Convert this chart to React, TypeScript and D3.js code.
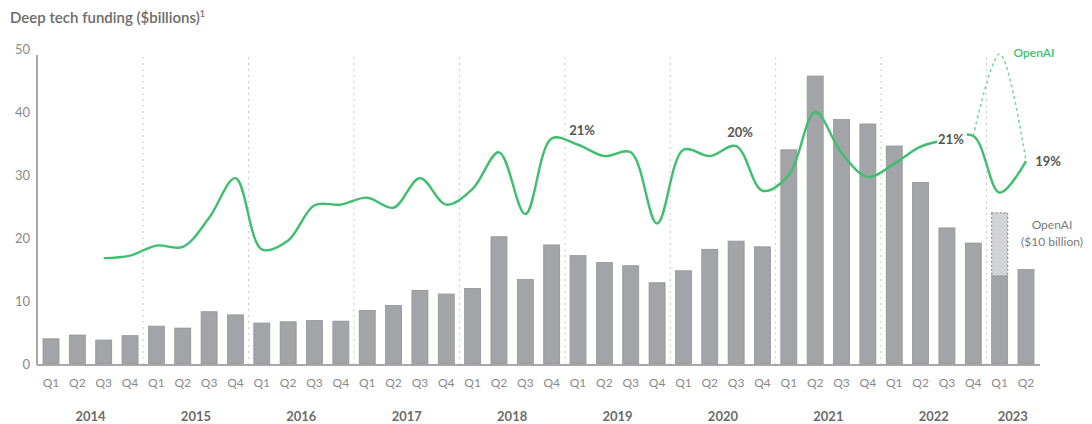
import * as d3 from 'd3';

const quarters = ['Q1', 'Q2', 'Q3', 'Q4'];
const years = ['2014', '2015', '2016', '2017', '2018', '2019', '2020', '2021', '2022', '2023'];
// one entry per quarter, 2014 Q1 .. 2023 Q2
const periods = years.flatMap((y) => quarters.map((q) => `${y} ${q}`)).slice(0, 38);

const funding = [
  4.0, 4.6, 3.8, 4.5, 6.0, 5.7, 8.3, 7.8, 6.5, 6.7, 6.9, 6.8,
  8.5, 9.3, 11.7, 11.1, 12.0, 20.2, 13.4, 18.9, 17.2, 16.1, 15.6, 12.9,
  14.8, 18.2, 19.5, 18.6, 34.0, 45.7, 38.8, 38.1, 34.6, 28.8, 21.6, 19.2,
  14.0, 15.0,
];

// OpenAI deal stacked on 2023 Q1
const openAiExtra = { period: '2023 Q1', base: 14.0, value: 10 };

const share: (number | null)[] = [
  null, null, 16.8, 17.2, 18.8, 18.6, 23.2, 29.5, 18.2, 19.6, 25.2, 25.3,
  26.4, 24.8, 29.5, 25.3, 27.8, 33.6, 23.8, 35.8, 34.8, 33.0, 33.6, 22.3,
  34.0, 33.0, 34.6, 27.5, 30.0, 40.0, 33.5, 29.7, 31.8, 34.5, 35.6, 36.2,
  27.2, 32.2,
];

// share line if the OpenAI deal is included
const shareWithOpenAi = [
  { period: '2022 Q4', value: 36.2 },
  { period: '2023 Q1', value: 49.2 },
  { period: '2023 Q2', value: 32.2 },
];

const shareLabels = [
  { period: '2019 Q1', text: '21%', dx: 4, dy: -14 },
  { period: '2020 Q3', text: '20%', dx: 4, dy: -14 },
  { period: '2022 Q3', text: '21%', dx: 4, dy: 0 },
  { period: '2023 Q2', text: '19%', dx: 22, dy: 0 },
];

const yTicks = [0, 10, 20, 30, 40, 50];

const GREEN = '#3dbf6e';
const BAR = '#a3a4a8';
const FONT = 'Lato, "Open Sans", sans-serif';

export default function App() {
  const width = 1092;
  const height = 424;
  const axisX = 37;
  const axisRight = 1040;

  const x = d3.scalePoint<string>().domain(periods).range([51, 1026]);
  const y = d3.scaleLinear().domain([0, 50]).range([364, 49]);
  const barW = 16;

  const line = d3
    .line<number | null>()
    .defined((d) => d != null)
    .x((_, i) => x(periods[i])!)
    .y((d) => y(d as number))
    .curve(d3.curveCatmullRom.alpha(0.5));

  const dashLine = d3
    .line<{ period: string; value: number }>()
    .x((d) => x(d.period)!)
    .y((d) => y(d.value))
    .curve(d3.curveCatmullRom.alpha(0.5));

  const step = x.step();
  const separators = years.slice(1).map((yr) => x(`${yr} Q1`)! - step / 2);

  const yearCenter = (yr: string) => {
    const ps = periods.filter((p) => p.startsWith(yr));
    return (x(ps[0])! + x(ps[ps.length - 1])!) / 2;
  };

  const oaX = x(openAiExtra.period)!;

  return (
    <svg width={width} height={height} style={{ position: 'absolute', left: 0, top: 0, background: '#fff' }} fontFamily={FONT}>
      <text x={10} y={23} fontSize={15} fill="#6b6b6b" fontWeight={600}>
        Deep tech funding ($billions)
        <tspan fontSize={9} dy={-6}>1</tspan>
      </text>

      {/* year separators */}
      {separators.map((sx, i) => (
        <line key={i} x1={sx} x2={sx} y1={57} y2={364} stroke="#c8c8c8" strokeDasharray="2 4" strokeWidth={1} />
      ))}

      {/* y tick labels */}
      {yTicks.map((t) => (
        <text key={t} x={30} y={y(t)} dy="0.35em" textAnchor="end" fontSize={13} fill="#8a8a8a">
          {t}
        </text>
      ))}

      {/* bars */}
      {funding.map((v, i) => (
        <rect
          key={periods[i]}
          x={x(periods[i])! - barW / 2}
          y={y(v)}
          width={barW}
          height={y(0) - y(v)}
          fill={BAR}
          stroke="#939498"
          strokeWidth={0.8}
        />
      ))}

      {/* OpenAI extra */}
      <rect
        x={oaX - barW / 2}
        y={y(openAiExtra.base + openAiExtra.value)}
        width={barW}
        height={y(openAiExtra.base) - y(openAiExtra.base + openAiExtra.value)}
        fill="#d2d3d6"
        stroke="#8e8f93"
        strokeWidth={1.2}
        strokeDasharray="2 2"
      />
      <text x={1052} y={229} textAnchor="middle" fontSize={12} fill="#7a7a7a">OpenAI</text>
      <text x={1052} y={246} textAnchor="middle" fontSize={12} fill="#7a7a7a">($10 billion)</text>

      {/* axes */}
      <line x1={axisX} x2={axisX} y1={55} y2={365} stroke="#a8a8a8" strokeWidth={2} />
      <line x1={axisX} x2={axisRight} y1={365} y2={365} stroke="#a8a8a8" strokeWidth={2} />

      {/* share line */}
      <path d={dashLine(shareWithOpenAi) ?? ''} fill="none" stroke="#7fd8a0" strokeWidth={1.6} strokeDasharray="3 3" />
      <path d={line(share) ?? ''} fill="none" stroke={GREEN} strokeWidth={2.4} />
      <text x={1034} y={57} textAnchor="middle" fontSize={12} fontWeight={600} fill={GREEN}>OpenAI</text>

      {shareLabels.map((l) => {
        const i = periods.indexOf(l.period);
        const px = x(l.period)! + l.dx;
        const py = y(share[i] as number) + l.dy;
        return (
          <g key={l.period}>
            {l.dy === 0 && l.dx < 10 && <rect x={px - 14} y={py - 9} width={30} height={18} fill="#fff" />}
            <text x={px} y={py} dy="0.35em" textAnchor="middle" fontSize={13} fontWeight={700} fill="#555">
              {l.text}
            </text>
          </g>
        );
      })}

      {/* quarter labels */}
      {periods.map((p) => (
        <text key={p} x={x(p)} y={383} dy="0.35em" textAnchor="middle" fontSize={12} fill="#8a8a8a">
          {p.split(' ')[1]}
        </text>
      ))}

      {/* year labels */}
      {years.map((yr) => (
        <text key={yr} x={yearCenter(yr)} y={416} dy="0.35em" textAnchor="middle" fontSize={13} fontWeight={700} fill="#6b6b6b">
          {yr}
        </text>
      ))}
    </svg>
  );
}
